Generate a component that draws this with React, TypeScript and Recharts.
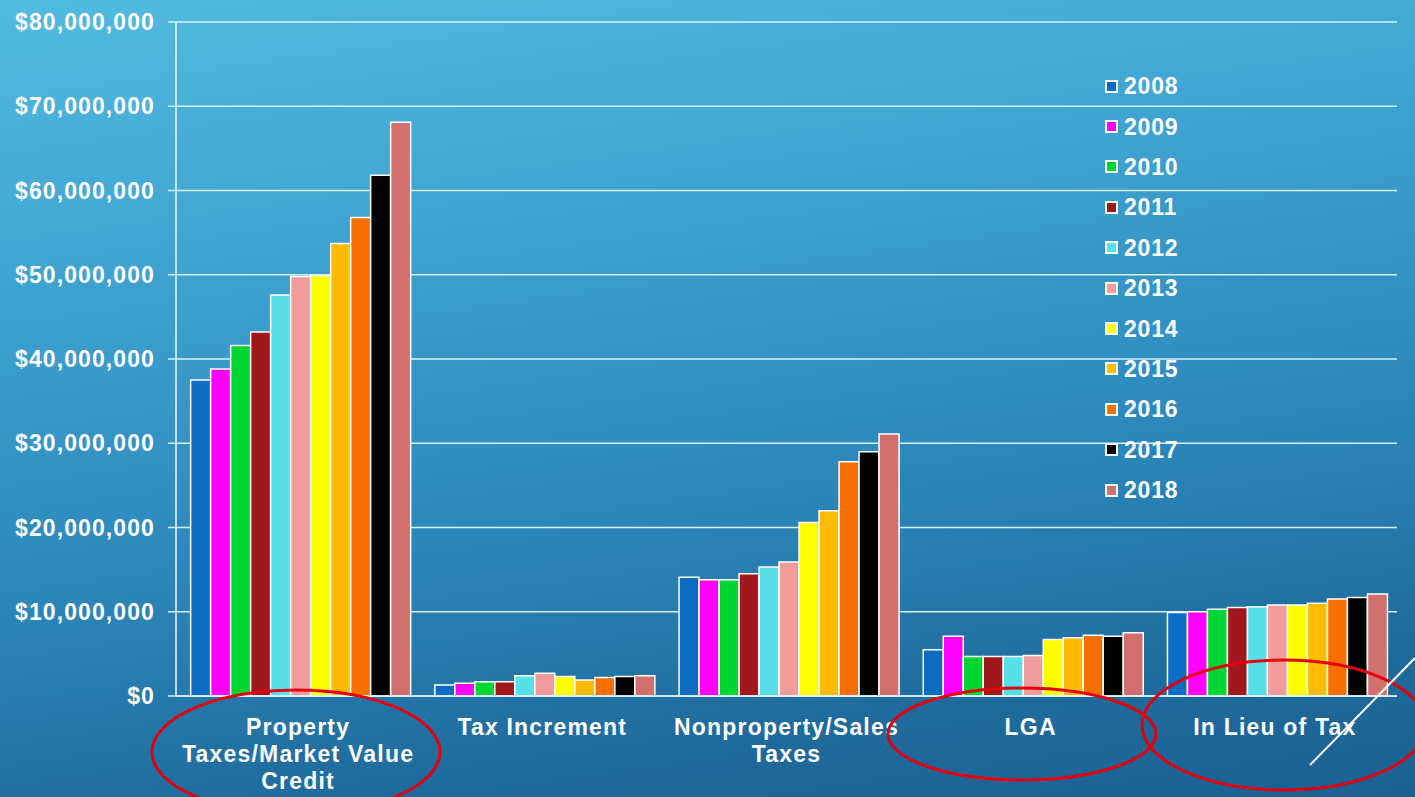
import React from 'react';
import { BarChart, Bar, XAxis, YAxis, CartesianGrid, Legend } from 'recharts';

const categories = [
  'Property Taxes/Market Value Credit',
  'Tax Increment',
  'Nonproperty/Sales Taxes',
  'LGA',
  'In Lieu of Tax',
];

const years = ['2008', '2009', '2010', '2011', '2012', '2013', '2014', '2015', '2016', '2017', '2018'];

const values2008 = [37500000, 1300000, 14100000, 5500000, 9900000];
const values2009 = [38800000, 1500000, 13800000, 7100000, 10000000];
const values2010 = [41600000, 1700000, 13800000, 4700000, 10300000];
const values2011 = [43200000, 1700000, 14500000, 4700000, 10500000];
const values2012 = [47600000, 2400000, 15300000, 4700000, 10600000];
const values2013 = [49800000, 2700000, 15900000, 4800000, 10800000];
const values2014 = [49900000, 2300000, 20600000, 6700000, 10800000];
const values2015 = [53700000, 1900000, 22000000, 6900000, 11000000];
const values2016 = [56800000, 2200000, 27800000, 7200000, 11500000];
const values2017 = [61800000, 2300000, 29000000, 7100000, 11700000];
const values2018 = [68100000, 2400000, 31100000, 7500000, 12100000];

const seriesValues = [
  values2008, values2009, values2010, values2011, values2012, values2013,
  values2014, values2015, values2016, values2017, values2018,
];

const colors = [
  '#0b6cc2', '#ff00ff', '#00d633', '#a0171c', '#58dfea', '#f09c9c',
  '#ffff00', '#ffbb00', '#f57000', '#000000', '#d2706e',
];

const yTicks = [0, 10000000, 20000000, 30000000, 40000000, 50000000, 60000000, 70000000, 80000000];

const data = categories.map((c, i) => {
  const row: Record<string, string | number> = { name: c };
  years.forEach((y, j) => {
    row[y] = seriesValues[j][i];
  });
  return row;
});

const FONT = '"Liberation Sans", Arial, sans-serif';
const LABEL_SIZE = 23;
const LABEL_SPACING = 1.2;

const formatMoney = (v: number) => '$' + v.toLocaleString('en-US');

let measureCtx: CanvasRenderingContext2D | null = null;
const measure = (s: string) => {
  if (!measureCtx) {
    const c = document.createElement('canvas');
    measureCtx = c.getContext('2d');
  }
  if (!measureCtx) return s.length * LABEL_SIZE * 0.6;
  measureCtx.font = `bold ${LABEL_SIZE}px ${FONT}`;
  return measureCtx.measureText(s).width + s.length * LABEL_SPACING;
};

const wrapWords = (text: string, maxWidth: number) => {
  const words = text.split(' ');
  const lines: string[] = [];
  let cur = '';
  words.forEach((w) => {
    const next = cur ? cur + ' ' + w : w;
    if (cur && measure(next) > maxWidth) {
      lines.push(cur);
      cur = w;
    } else {
      cur = next;
    }
  });
  if (cur) lines.push(cur);
  return lines;
};

const CategoryTick = (props: any) => {
  const { x, y, payload } = props;
  const lines = wrapWords(String(payload.value), 240);
  return (
    <text
      x={x}
      y={y}
      textAnchor="middle"
      fill="#ffffff"
      style={{
        fontSize: LABEL_SIZE,
        fontWeight: 'bold',
        fontFamily: FONT,
        letterSpacing: LABEL_SPACING,
      }}
    >
      {lines.map((l, i) => (
        <tspan key={i} x={x} y={y + 39 + i * 27}>
          {l}
        </tspan>
      ))}
    </text>
  );
};

const LegendContent = (props: any) => {
  const { payload } = props;
  return (
    <div>
      {(payload || []).map((p: any) => (
        <div
          key={p.value}
          style={{ display: 'flex', alignItems: 'center', height: 40.4 }}
        >
          <span
            style={{
              display: 'inline-block',
              width: 9,
              height: 9,
              background: p.color,
              border: '2px solid #ffffff',
              marginRight: 6,
            }}
          />
          <span
            style={{
              color: '#ffffff',
              fontFamily: FONT,
              fontWeight: 'bold',
              fontSize: 23,
              letterSpacing: 0.8,
              lineHeight: '24px',
            }}
          >
            {p.value}
          </span>
        </div>
      ))}
    </div>
  );
};

export default function App() {
  return (
    <div
      style={{
        position: 'fixed',
        left: 0,
        top: 0,
        width: 1415,
        height: 797,
        overflow: 'hidden',
        background:
          'linear-gradient(172deg, #52bbe0 0%, #3ea2d0 30%, #2c87bb 60%, #1f6a9c 85%, #1b6193 100%)',
      }}
    >
      <BarChart
        width={1415}
        height={797}
        data={data}
        margin={{ top: 22, right: 18, bottom: 0, left: 0 }}
        barCategoryGap="6%"
        barGap={0}
      >
        <CartesianGrid
          vertical={false}
          stroke="#d6f1fb"
          strokeWidth={1.5}
        />
        <XAxis
          dataKey="name"
          height={101}
          interval={0}
          tick={<CategoryTick />}
          tickLine={false}
          tickSize={0}
          tickMargin={0}
          axisLine={{ stroke: '#d6f1fb', strokeWidth: 1.5 }}
        />
        <YAxis
          width={176}
          domain={[0, 80000000]}
          ticks={yTicks}
          tickFormatter={formatMoney}
          tickSize={8}
          tickMargin={13}
          tickLine={{ stroke: '#d6f1fb', strokeWidth: 1.5 }}
          axisLine={{ stroke: '#e8f8fd', strokeWidth: 1.5 }}
          tick={{
            fill: '#ffffff',
            fontSize: 23,
            fontWeight: 'bold',
            fontFamily: FONT,
            letterSpacing: 1.1,
          }}
        />
        <Legend
          layout="vertical"
          verticalAlign="middle"
          align="center"
          content={<LegendContent />}
          wrapperStyle={{ left: 1105, top: 66, width: 120, right: 'auto', bottom: 'auto' }}
        />
        {years.map((y, j) => (
          <Bar
            key={y}
            dataKey={y}
            name={y}
            fill={colors[j]}
            stroke="#ffffff"
            strokeWidth={1.5}
            isAnimationActive={false}
          />
        ))}
      </BarChart>
      <svg
        width={1415}
        height={797}
        style={{ position: 'absolute', left: 0, top: 0, pointerEvents: 'none' }}
      >
        <ellipse cx={296} cy={752} rx={144} ry={62} fill="none" stroke="#e3000f" strokeWidth={3} />
        <ellipse cx={1022} cy={734} rx={134} ry={46} fill="none" stroke="#e3000f" strokeWidth={3} />
        <ellipse cx={1284} cy={725} rx={142} ry={65} fill="none" stroke="#e3000f" strokeWidth={3} />
        <line x1={1310} y1={765} x2={1415} y2={658} stroke="#ffffff" strokeWidth={2} />
      </svg>
    </div>
  );
}
